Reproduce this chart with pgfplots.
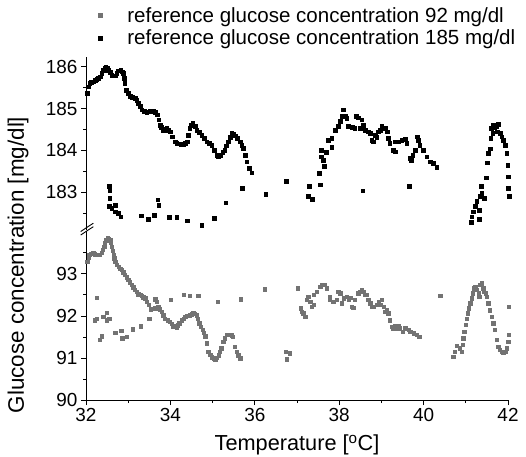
\documentclass[border=0pt]{standalone}
\usepackage{pgfplots}
\pgfplotsset{compat=1.18}
\usepackage{fontspec}
\setmainfont{Liberation Sans}
\definecolor{grayser}{gray}{0.45}

\pgfplotstableread[row sep=\\]{
x y\\
32.03 185.37\\ 32.05 185.52\\ 32.09 185.60\\ 32.13 185.63\\ 32.17 185.64\\ 32.21 185.67\\ 32.25 185.70\\ 32.29 185.73\\
32.33 185.76\\ 32.37 185.84\\ 32.41 185.92\\ 32.44 185.97\\ 32.47 186.00\\ 32.50 185.97\\ 32.53 185.92\\ 32.57 185.86\\
32.61 185.80\\ 32.65 185.78\\ 32.69 185.78\\ 32.73 185.84\\ 32.77 185.90\\ 32.82 185.92\\ 32.85 185.88\\ 32.88 185.84\\
32.90 185.72\\ 32.92 185.60\\ 32.96 185.44\\ 33.00 185.36\\ 33.04 185.30\\ 33.10 185.27\\ 33.16 185.25\\ 33.20 185.20\\
33.24 185.13\\ 33.28 185.05\\ 33.32 184.97\\ 33.38 184.93\\ 33.44 184.91\\ 33.52 184.93\\ 33.60 184.95\\ 33.64 184.91\\
33.68 184.85\\ 33.72 184.73\\ 33.75 184.61\\ 33.79 184.55\\ 33.83 184.49\\ 33.87 184.51\\ 33.91 184.53\\ 33.95 184.49\\
33.99 184.45\\ 34.05 184.33\\ 34.11 184.21\\ 34.15 184.17\\ 34.19 184.16\\ 34.25 184.15\\ 34.31 184.15\\ 34.35 184.17\\
34.39 184.21\\ 34.43 184.37\\ 34.46 184.53\\ 34.50 184.61\\ 34.53 184.65\\ 34.58 184.57\\ 34.62 184.49\\ 34.68 184.43\\
34.74 184.37\\ 34.80 184.29\\ 34.86 184.21\\ 34.92 184.17\\ 34.98 184.13\\ 35.04 184.01\\ 35.10 183.89\\ 35.14 183.87\\
35.18 183.89\\ 35.24 183.95\\ 35.29 184.01\\ 35.33 184.11\\ 35.37 184.21\\ 35.41 184.31\\ 35.45 184.41\\ 35.49 184.39\\
35.53 184.35\\ 35.59 184.29\\ 35.65 184.21\\ 35.69 184.13\\ 35.73 184.05\\ 35.77 183.89\\ 35.81 183.73\\ 35.86 183.57\\
35.93 183.47\\
32.55 183.15\\ 32.56 183.04\\ 32.56 182.86\\ 32.55 182.66\\ 32.61 182.62\\ 32.69 182.70\\ 32.69 182.54\\ 32.77 182.50\\
32.82 182.42\\ 33.30 182.44\\ 33.48 182.36\\ 33.61 182.46\\ 33.70 182.82\\ 33.72 182.70\\ 33.97 182.40\\ 34.15 182.40\\
34.40 182.32\\ 34.74 182.22\\ 35.03 182.38\\ 35.31 182.75\\ 35.70 183.10\\ 36.26 182.96\\ 36.74 183.27\\
37.27 182.90\\ 37.36 182.84\\ 37.29 183.14\\ 37.55 183.18\\ 37.53 183.46\\ 37.65 183.63\\ 37.58 183.85\\ 37.62 183.77\\
37.58 184.00\\ 37.70 183.95\\ 37.74 184.25\\ 37.82 184.29\\ 37.82 184.08\\ 37.90 184.49\\ 37.98 184.57\\ 38.02 184.69\\
38.06 184.81\\ 38.10 184.97\\ 38.14 184.81\\ 38.18 184.77\\ 38.22 184.57\\ 38.30 184.55\\ 38.37 184.53\\ 38.41 184.81\\
38.45 184.78\\ 38.53 184.73\\ 38.57 184.61\\ 38.50 184.53\\ 38.61 184.49\\ 38.69 184.45\\ 38.73 184.41\\ 38.77 184.25\\
38.81 184.21\\ 38.85 184.37\\ 38.89 184.31\\ 38.93 184.45\\ 38.97 184.49\\ 39.01 184.57\\ 39.09 184.53\\ 39.13 184.45\\
39.16 184.29\\ 39.20 184.17\\ 39.28 184.01\\ 39.32 183.97\\ 39.32 184.21\\ 39.40 184.21\\ 39.48 184.25\\ 39.56 184.27\\
39.60 184.17\\ 39.68 183.81\\ 39.70 183.77\\ 39.74 183.89\\ 39.80 184.01\\ 39.84 184.33\\ 39.88 184.25\\ 39.91 184.13\\
39.99 184.01\\ 40.07 183.85\\ 40.15 183.73\\ 40.23 183.69\\ 40.31 183.60\\ 39.66 183.14\\ 38.56 183.04\\
41.12 182.28\\ 41.14 182.42\\ 41.18 182.54\\ 41.22 182.66\\ 41.31 182.36\\ 41.32 182.58\\ 41.26 182.78\\ 41.34 182.90\\
41.38 182.98\\ 41.43 182.86\\ 41.36 183.14\\ 41.48 183.35\\ 41.50 183.71\\ 41.53 183.93\\ 41.57 184.04\\ 41.59 184.29\\
41.64 184.41\\ 41.61 184.53\\ 41.65 184.61\\ 41.68 184.55\\ 41.72 184.57\\ 41.77 184.63\\ 41.75 184.45\\ 41.81 184.41\\
41.85 184.33\\ 41.89 184.25\\ 41.93 184.13\\ 41.97 183.93\\ 41.99 183.65\\ 42.00 183.37\\ 42.01 183.10\\ 42.02 182.90\\
}\highdata

\pgfplotstableread[row sep=\\]{
x y\\
32.03 93.29\\ 32.06 93.40\\ 32.08 93.45\\ 32.12 93.48\\ 32.17 93.49\\ 32.21 93.47\\ 32.25 93.45\\ 32.29 93.45\\
32.33 93.45\\ 32.37 93.50\\ 32.40 93.57\\ 32.43 93.65\\ 32.45 93.73\\ 32.48 93.80\\ 32.51 93.85\\ 32.54 93.84\\
32.57 93.81\\ 32.59 93.74\\ 32.61 93.65\\ 32.63 93.55\\ 32.65 93.45\\ 32.67 93.37\\ 32.69 93.29\\ 32.73 93.22\\
32.77 93.17\\ 32.81 93.13\\ 32.85 93.10\\ 32.88 93.04\\ 32.92 92.98\\ 32.96 92.92\\ 33.00 92.86\\ 33.04 92.80\\
33.08 92.74\\ 33.12 92.68\\ 33.16 92.62\\ 33.20 92.57\\ 33.24 92.52\\ 33.28 92.50\\ 33.32 92.48\\ 33.36 92.45\\
33.40 92.42\\ 33.44 92.34\\ 33.48 92.26\\ 33.53 92.16\\ 33.58 92.17\\ 33.64 92.18\\ 33.71 92.22\\ 33.75 92.16\\
33.79 92.10\\ 33.83 92.02\\ 33.87 91.94\\ 33.93 91.90\\ 33.99 91.86\\ 34.03 91.81\\ 34.07 91.76\\ 34.11 91.74\\
34.15 91.73\\ 34.18 91.78\\ 34.21 91.83\\ 34.27 91.90\\ 34.31 91.94\\ 34.35 91.98\\ 34.40 92.00\\ 34.46 92.02\\
34.50 92.04\\ 34.54 92.06\\ 34.58 92.05\\ 34.62 92.02\\ 34.65 91.93\\ 34.68 91.83\\ 34.72 91.75\\ 34.76 91.67\\
34.79 91.60\\ 34.82 91.52\\ 34.86 91.35\\ 34.90 91.15\\ 34.94 91.08\\ 34.98 91.02\\ 35.02 90.99\\ 35.06 90.97\\
35.10 91.01\\ 35.14 91.07\\ 35.17 91.15\\ 35.20 91.23\\ 35.25 91.39\\ 35.29 91.47\\ 35.33 91.55\\ 35.37 91.56\\
35.41 91.55\\ 35.45 91.54\\ 35.48 91.51\\ 35.53 91.27\\ 35.57 91.15\\ 35.61 91.07\\ 35.65 90.99\\
32.25 92.44\\ 32.21 91.90\\ 32.25 91.94\\ 32.33 91.43\\ 32.37 91.52\\ 32.41 91.98\\ 32.49 92.08\\ 32.49 91.90\\
32.55 91.94\\ 32.69 91.60\\ 32.83 91.65\\ 32.86 91.47\\ 32.96 91.51\\ 33.11 91.68\\ 33.30 91.76\\ 33.50 91.94\\
33.64 92.40\\ 33.68 92.34\\ 34.00 92.38\\ 34.31 92.50\\ 34.46 92.48\\ 34.66 92.48\\ 35.12 92.34\\ 35.67 92.40\\
36.24 92.64\\ 36.73 91.15\\ 36.83 91.11\\ 36.76 90.97\\ 37.02 92.66\\
37.09 92.18\\ 37.11 92.10\\ 37.15 92.06\\ 37.19 91.98\\ 37.23 92.38\\ 37.27 92.46\\ 37.31 92.34\\ 37.35 92.22\\
37.39 92.26\\ 37.39 92.50\\ 37.47 92.58\\ 37.55 92.70\\ 37.58 92.74\\ 37.66 92.74\\ 37.70 92.66\\ 37.62 92.74\\
37.77 92.46\\ 37.78 92.38\\ 37.86 92.34\\ 37.94 92.38\\ 37.98 92.58\\ 38.02 92.54\\ 38.06 92.30\\ 38.10 92.42\\
38.18 92.46\\ 38.22 92.38\\ 38.26 92.44\\ 38.30 92.22\\ 38.33 92.20\\ 38.37 92.38\\ 38.45 92.54\\ 38.49 92.58\\
38.53 92.62\\ 38.57 92.58\\ 38.61 92.50\\ 38.65 92.50\\ 38.69 92.38\\ 38.73 92.30\\ 38.77 92.22\\ 38.81 92.22\\
38.89 92.26\\ 38.93 92.34\\ 38.97 92.26\\ 39.01 92.38\\ 39.05 92.22\\ 39.09 92.10\\ 39.13 92.14\\ 39.16 92.06\\
39.20 91.90\\ 39.24 91.75\\ 39.28 91.71\\ 39.32 91.76\\ 39.36 91.71\\ 39.40 91.76\\ 39.44 91.71\\ 39.50 91.63\\
39.56 91.71\\ 39.64 91.67\\ 39.68 91.63\\ 39.76 91.59\\ 39.84 91.55\\ 39.90 91.51\\
40.39 92.48\\
40.70 91.03\\ 40.74 91.15\\ 40.78 91.29\\ 40.86 91.23\\ 40.90 91.15\\ 40.93 91.31\\ 40.94 91.47\\ 40.96 91.63\\
41.00 91.79\\ 41.02 91.94\\ 41.04 92.06\\ 41.07 92.18\\ 41.10 92.30\\ 41.14 92.42\\ 41.16 92.54\\ 41.19 92.66\\
41.22 92.70\\ 41.26 92.62\\ 41.30 92.54\\ 41.32 92.46\\ 41.34 92.74\\ 41.38 92.78\\ 41.41 92.66\\ 41.43 92.58\\
41.47 92.54\\ 41.50 92.46\\ 41.53 92.30\\ 41.57 92.14\\ 41.61 91.98\\ 41.65 91.83\\ 41.69 91.67\\ 41.73 91.43\\
41.77 91.27\\ 41.81 91.19\\ 41.85 91.15\\ 41.89 91.13\\ 41.93 91.15\\ 41.97 91.23\\ 42.00 91.39\\ 42.01 91.55\\
42.02 92.22\\
}\lowdata

\begin{document}
\begin{tikzpicture}
\path[use as bounding box] (0,0) rectangle (526bp,457bp);
\pgfplotsset{
  myax/.style={
    scale only axis, width=422bp, xmin=32, xmax=42,
    tick align=outside,
    major tick length=5bp, minor tick length=3bp,
    /pgf/number format/assume math mode=true,
    tick label style={font=\fontsize{19}{22}\selectfont},
    axis line style={line width=0.9pt,-},
    every tick/.style={line width=0.8pt, black},
    clip=false,
  }
}
\begin{axis}[myax, at={(86bp,227bp)}, anchor=south west, height=173bp,
  ymin=182.1, ymax=186.23,
  ytick={183,184,185,186}, minor ytick={182.5,183.5,184.5,185.5},
  axis y line*=left, hide x axis,
  legend style={at={(axis description cs:0,1)}, anchor=north west, xshift=12bp, yshift=52bp,
    draw=none, fill=none, font=\fontsize{20.6}{23}\selectfont, row sep=2.5bp, inner sep=0pt,
    /tikz/every odd column/.append style={column sep=23.5bp}},
  legend cell align=left]
\addlegendimage{only marks, mark=square*, mark size=1.7bp, grayser}
\addlegendentry{reference glucose concentration 92 mg/dl}
\addplot[only marks, mark=square*, mark size=1.85bp, black] table[x=x,y=y] {\highdata};
\addlegendentry{reference glucose concentration 185 mg/dl}
\end{axis}
\begin{axis}[myax, at={(86bp,57bp)}, anchor=south west, height=169bp,
  ymin=90, ymax=94.02,
  ytick={90,91,92,93}, minor ytick={90.5,91.5,92.5,93.5},
  xtick={32,34,36,38,40,42}, minor xtick={33,35,37,39,41},
  axis x line*=bottom, axis y line*=left]
\addplot[only marks, mark=square*, mark size=1.7bp, grayser] table[x=x,y=y] {\lowdata};
\end{axis}
\draw[line width=0.9pt] (80.7bp,222bp) -- (93.3bp,230.3bp);
\draw[line width=0.9pt] (80.7bp,225.5bp) -- (93.3bp,233.8bp);
\node[rotate=90, font=\fontsize{22.5}{26}\selectfont] at (18bp,192bp) {Glucose concentration [mg/dl]};
\node[font=\fontsize{21.8}{25}\selectfont] at (297bp,12bp) {Temperature [\textsuperscript{o}C]};
\end{tikzpicture}
\end{document}
